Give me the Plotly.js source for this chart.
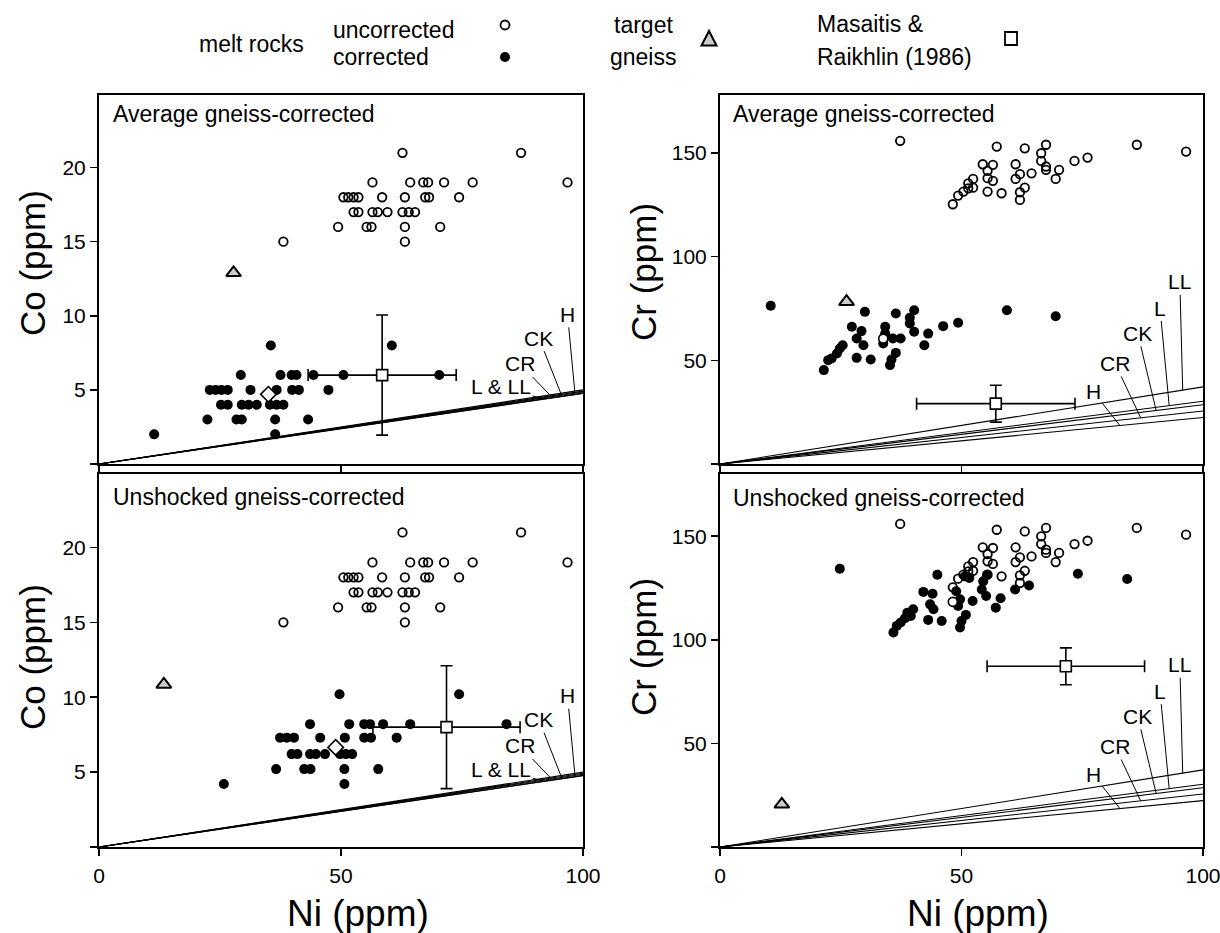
<!DOCTYPE html>
<html>
<head>
<meta charset="utf-8">
<script src="https://cdn.plot.ly/plotly-3.0.1.min.js"></script>
<style>
html,body{margin:0;padding:0;background:#fff;}
#chart{width:1220px;height:933px;}
</style>
</head>
<body>
<div id="chart"></div>
<script>
// ---------------- DATA ----------------
// Uncorrected melt rocks, Co vs Ni (same in both Co panels)
const niUncCo = [62.7, 87.2,
  56.5, 64.3, 67.0, 68.0, 71.3, 77.2, 96.8,
  50.5, 51.5, 52.6, 53.6, 58.5, 63.2, 67.4, 68.2, 74.4,
  52.6, 53.6, 56.5, 57.6, 59.6, 62.7, 64.0, 65.3,
  49.4, 55.3, 56.3, 63.2, 70.5,
  38.1, 63.2];
const coUnc = [21, 21,
  19, 19, 19, 19, 19, 19, 19,
  18, 18, 18, 18, 18, 18, 18, 18, 18,
  17, 17, 17, 17, 17, 17, 17, 17,
  16, 16, 16, 16, 16,
  15, 15];

// Corrected melt rocks, average gneiss-corrected, Co vs Ni
const niAvgCo = [11.4, 35.5, 60.5,
  29.3, 37.5, 39.8, 40.8, 44.3, 50.5, 70.3,
  22.9, 24.1, 25.3, 26.6, 31.3, 36.7, 39.9, 41.3, 47.4,
  25.2, 26.6, 29.5, 30.9, 32.6, 35.3, 36.7, 38.1,
  22.4, 28.4, 29.5, 36.4, 43.2,
  36.4];
const coAvg = [2, 8, 8,
  6, 6, 6, 6, 6, 6, 6,
  5, 5, 5, 5, 5, 5, 5, 5, 5,
  4, 4, 4, 4, 4, 4, 4, 4,
  3, 3, 3, 3, 3,
  2];

// Corrected melt rocks, unshocked gneiss-corrected, Co vs Ni
const niUnshCo = [25.8, 49.7, 74.4,
  43.6, 51.7, 54.8, 56.0, 58.7, 64.3, 84.2,
  37.4, 38.8, 40.3, 45.7, 50.8, 54.8, 56.2, 61.5,
  39.8, 41.0, 43.6, 44.8, 46.7, 49.8, 51.0, 52.3,
  36.6, 42.4, 43.7, 50.7, 57.7,
  50.7];
const coUnsh = [4.2, 10.2, 10.2,
  8.2, 8.2, 8.2, 8.2, 8.2, 8.2, 8.2,
  7.3, 7.3, 7.3, 7.3, 7.3, 7.3, 7.3, 7.3,
  6.2, 6.2, 6.2, 6.2, 6.2, 6.2, 6.2, 6.2,
  5.2, 5.2, 5.2, 5.2, 5.2,
  4.2];

// Uncorrected melt rocks, Cr vs Ni (same in both Cr panels)
const niUncCr = [37.3, 57.3, 63.1, 67.5, 86.3, 96.5, 66.5, 76.1, 73.4, 66.5,
  61.2, 54.4, 56.5, 67.5, 67.5, 70.2, 55.4, 62.1, 64.5, 55.4,
  61.2, 56.5, 69.5, 52.4, 51.4, 52.4, 51.4, 63.1, 55.4, 58.3,
  62.1, 62.1, 50.4, 49.3, 48.2];
const crUnc = [155.9, 153.1, 152.3, 154.0, 154.0, 150.7, 149.9, 147.8, 146.2, 146.2,
  144.6, 144.6, 144.3, 143.5, 141.9, 141.9, 141.4, 139.8, 140.2, 137.9,
  137.5, 136.6, 137.5, 137.5, 135.4, 133.3, 133.0, 133.3, 131.4, 130.6,
  131.1, 127.4, 131.4, 129.5, 125.3];

// Corrected melt rocks, average gneiss-corrected, Cr vs Ni
const niAvgCr = [10.5, 30.0, 36.4, 40.2, 59.4, 69.5, 39.3, 46.2, 49.3, 39.3,
  40.2, 43.1, 27.3, 29.3, 28.3, 29.7, 34.2, 34.2, 33.8, 35.8,
  37.4, 42.3, 25.4, 24.8, 24.2, 23.1, 22.4, 21.5, 28.3, 31.2,
  36.4, 35.5, 35.2];
const crAvg = [76.3, 73.4, 72.6, 74.2, 74.2, 71.3, 70.5, 66.5, 68.1, 67.8,
  63.8, 62.9, 66.2, 64.1, 60.5, 57.3, 66.2, 62.9, 58.1, 60.5,
  60.5, 57.3, 57.3, 55.7, 53.3, 50.9, 50.1, 45.3, 51.2, 50.4,
  53.6, 50.4, 47.7];

// Corrected melt rocks, unshocked gneiss-corrected, Cr vs Ni
const niUnshCr = [24.8, 45.0, 74.1, 84.3,
  35.9, 36.6, 37.4, 38.3, 38.8, 39.5, 40.0,
  42.1, 44.0, 43.5, 44.2, 43.1, 45.9,
  49.7, 50.0, 50.9, 49.3, 48.9, 49.7,
  52.3, 51.6, 50.7,
  55.3, 54.5, 54.2, 55.1, 57.1, 58.1, 61.1, 64.0];
const crUnsh = [134.3, 131.4, 131.9, 129.3,
  103.5, 106.7, 108.3, 110.4, 113.1, 111.5, 114.7,
  123.1, 122.2, 117.1, 114.7, 109.6, 109.1,
  105.9, 109.1, 112.0, 116.3, 123.4, 119.5,
  118.7, 129.8, 130.6,
  131.4, 128.2, 124.3, 121.1, 115.5, 120.0, 124.3, 126.2];

// Panels order: [Co avg, Co unshocked, Cr avg, Cr unshocked]
const gneissNi = [27.8, 13.4, 26.2, 12.8];
const gneissVal = [12.9, 10.85, 78.3, 20.6];
const masNi = [58.5, 71.8, 57.1, 71.6];
const masVal = [6.0, 8.0, 29.1, 87.2];
const masNiErr = [15.3, 15.2, 16.4, 16.3];
const masValErr = [4.05, 4.1, 8.9, 8.9];
const openMarkNi = [35.0, 48.9, 33.8, 48.2];
const openMarkVal = [4.7, 6.65, 60.5, 118.3];

// Chondrite reference lines (value at Ni = 100 ppm)
const meteorites = ['H', 'CK', 'CR', 'L', 'LL'];
const coAtNi100 = [5.0, 4.92, 4.86, 4.78, 4.76];
const crAtNi100 = [22.4, 28.6, 25.6, 30.3, 37.2];

// Tick labels
const niTicks = [0, 50, 100];
const coTicks = [0, 5, 10, 15, 20];
const crTicks = [0, 50, 100, 150];

// ---------------- LAYOUT HELPERS ----------------
const FONT = 'Liberation Sans, Arial, Helvetica, sans-serif';
const W = 1220, H = 933;
const px = v => v / W;
const py = v => 1 - v / H;

const xDomL = [px(99), px(583)], xDomR = [px(720), px(1203)];
const yDomT = [py(464), py(95)], yDomB = [py(847), py(474)];

function xAxis(domain, anchor, showLabels) {
  return {
    domain: domain, anchor: anchor, range: [0, 100],
    tickvals: niTicks, ticktext: niTicks.map(String),
    showticklabels: showLabels,
    ticks: 'outside', ticklen: 7, tickwidth: 1.5, tickcolor: '#000',
    showline: true, linecolor: '#000', linewidth: 2, mirror: true,
    showgrid: false, zeroline: false, fixedrange: true,
    ticklabelstandoff: 2, ticklabeloverflow: 'allow',
    tickfont: {family: FONT, size: 21, color: '#000'}
  };
}
function yAxis(domain, anchor, range, ticks) {
  return {
    domain: domain, anchor: anchor, range: range,
    tickvals: ticks, ticktext: ticks.map(t => t === 0 ? '' : String(t)),
    ticks: 'outside', ticklen: 7, tickwidth: 1.5, tickcolor: '#000',
    showline: true, linecolor: '#000', linewidth: 2, mirror: true,
    showgrid: false, zeroline: false, fixedrange: true,
    ticklabeloverflow: 'allow',
    tickfont: {family: FONT, size: 21, color: '#000'}
  };
}

const panels = [
  {xa: 'x', ya: 'y', niU: niUncCo, vU: coUnc, niC: niAvgCo, vC: coAvg, lines: coAtNi100, openSym: 'diamond', openSize: 12},
  {xa: 'x3', ya: 'y3', niU: niUncCo, vU: coUnc, niC: niUnshCo, vC: coUnsh, lines: coAtNi100, openSym: 'diamond', openSize: 12},
  {xa: 'x2', ya: 'y2', niU: niUncCr, vU: crUnc, niC: niAvgCr, vC: crAvg, lines: crAtNi100, openSym: 'circle', openSize: 9},
  {xa: 'x4', ya: 'y4', niU: niUncCr, vU: crUnc, niC: niUnshCr, vC: crUnsh, lines: crAtNi100, openSym: 'circle', openSize: 9}
];

const traces = [];
panels.forEach((p, i) => {
  // chondrite lines
  meteorites.forEach((m, k) => {
    traces.push({
      type: 'scatter', mode: 'lines', xaxis: p.xa, yaxis: p.ya,
      x: [0, 100], y: [0, p.lines[k]], name: m, showlegend: false,
      line: {color: '#000', width: 1.1}, hoverinfo: 'skip'
    });
  });
  // corrected (filled)
  traces.push({
    type: 'scatter', mode: 'markers', xaxis: p.xa, yaxis: p.ya,
    x: p.niC, y: p.vC, name: 'corrected', showlegend: false,
    marker: {symbol: 'circle', size: 10, color: '#000', line: {width: 0}}
  });
  // uncorrected (open)
  traces.push({
    type: 'scatter', mode: 'markers', xaxis: p.xa, yaxis: p.ya,
    x: p.niU, y: p.vU, name: 'uncorrected', showlegend: false,
    marker: {symbol: 'circle-open', size: 8.5, color: '#000', line: {width: 1.8, color: '#000'}}
  });
  // open diamond / circle marker within corrected cluster
  traces.push({
    type: 'scatter', mode: 'markers', xaxis: p.xa, yaxis: p.ya,
    x: [openMarkNi[i]], y: [openMarkVal[i]], showlegend: false,
    marker: {symbol: p.openSym, size: p.openSize, color: '#fff', line: {width: 1.6, color: '#000'}}
  });
  // target gneiss
  traces.push({
    type: 'scatter', mode: 'markers', xaxis: p.xa, yaxis: p.ya,
    x: [gneissNi[i]], y: [gneissVal[i]], name: 'target gneiss', showlegend: false,
    marker: {symbol: 'triangle-up', size: 13, color: '#cccccc', line: {width: 2, color: '#000'}}
  });
  // Masaitis & Raikhlin (1986)
  traces.push({
    type: 'scatter', mode: 'markers', xaxis: p.xa, yaxis: p.ya,
    x: [masNi[i]], y: [masVal[i]], name: 'Masaitis & Raikhlin (1986)', showlegend: false,
    error_x: {type: 'data', array: [masNiErr[i]], visible: true, color: '#000', thickness: 1.6, width: 6},
    error_y: {type: 'data', array: [masValErr[i]], visible: true, color: '#000', thickness: 1.6, width: 6},
    marker: {symbol: 'square', size: 11, color: '#fff', line: {width: 1.6, color: '#000'}}
  });
});

// ---------------- ANNOTATIONS ----------------
const annotations = [];
const txt = (text, x, y, size, opts) => Object.assign({
  text: text, xref: 'paper', yref: 'paper', x: px(x), y: py(y),
  showarrow: false, font: {family: FONT, size: size, color: '#000'},
  xanchor: 'center', yanchor: 'middle'
}, opts || {});

// panel labels
annotations.push(txt('Average gneiss-corrected', 111, 114, 23, {xanchor: 'left'}));
annotations.push(txt('Average gneiss-corrected', 731, 114, 23, {xanchor: 'left'}));
annotations.push(txt('Unshocked gneiss-corrected', 111, 497, 23, {xanchor: 'left'}));
annotations.push(txt('Unshocked gneiss-corrected', 731, 498, 23, {xanchor: 'left'}));

// axis titles
annotations.push(txt('Co (ppm)', 32, 263, 35, {textangle: -90}));
annotations.push(txt('Co (ppm)', 32, 657, 35, {textangle: -90}));
annotations.push(txt('Cr (ppm)', 643, 272, 35, {textangle: -90}));
annotations.push(txt('Cr (ppm)', 643, 647, 35, {textangle: -90}));
annotations.push(txt('Ni (ppm)', 358, 913, 37));
annotations.push(txt('Ni (ppm)', 978, 913, 37));

// top legend text
annotations.push(txt('melt rocks', 251, 44, 23));
annotations.push(txt('uncorrected', 331, 30, 23, {xanchor: 'left'}));
annotations.push(txt('corrected', 331, 57, 23, {xanchor: 'left'}));
annotations.push(txt('target', 643, 25, 23));
annotations.push(txt('gneiss', 643, 57, 23));
annotations.push(txt('Masaitis &', 815, 24, 23, {xanchor: 'left'}));
annotations.push(txt('Raikhlin (1986)', 815, 57, 23, {xanchor: 'left'}));

// chondrite labels with leader lines
const coLabels = ['H', 'CK', 'CR', 'L & LL'];
const coLabelIdx = [0, 1, 2, 3];
const coLabelPos = [[96.8, 10.1], [90.9, 8.5], [87.0, 6.75], [83.1, 5.2]];
const coTipNi = [98.3, 95.5, 93.5, 91.8];
const crLabels = ['LL', 'L', 'CK', 'CR', 'H'];
const crLabelIdx = [4, 3, 1, 2, 0];
const crLabelPos = [[95.2, 87.9], [91.1, 75.2], [86.5, 63.0], [81.8, 48.5], [77.3, 34.8]];
const crTipNi = [95.8, 93.0, 90.3, 87.1, 82.8];

function leader(xa, ya, text, lx, ly, tx, ty) {
  return {
    xref: xa, yref: ya, axref: xa, ayref: ya,
    x: tx, y: ty, ax: lx, ay: ly, text: text,
    showarrow: true, arrowhead: 0, arrowwidth: 1, arrowcolor: '#000',
    standoff: 0, startstandoff: 0,
    font: {family: FONT, size: 21, color: '#000'}
  };
}
[['x', 'y'], ['x3', 'y3']].forEach(([xa, ya]) => {
  coLabels.forEach((t, k) => {
    const tip = coTipNi[k];
    annotations.push(leader(xa, ya, t, coLabelPos[k][0], coLabelPos[k][1], tip, coAtNi100[coLabelIdx[k]] * tip / 100));
  });
});
[['x2', 'y2'], ['x4', 'y4']].forEach(([xa, ya]) => {
  crLabels.forEach((t, k) => {
    const tip = crTipNi[k];
    annotations.push(leader(xa, ya, t, crLabelPos[k][0], crLabelPos[k][1], tip, crAtNi100[crLabelIdx[k]] * tip / 100));
  });
});

// legend symbols as shapes (paper coordinates)
const shapes = [
  {type: 'circle', xref: 'paper', yref: 'paper', x0: px(500.5), x1: px(509.5), y0: py(29.5), y1: py(20.5),
   line: {color: '#000', width: 1.8}, fillcolor: 'rgba(0,0,0,0)'},
  {type: 'circle', xref: 'paper', yref: 'paper', x0: px(500), x1: px(510), y0: py(62), y1: py(52),
   line: {color: '#000', width: 0}, fillcolor: '#000'},
  {type: 'path', xref: 'paper', yref: 'paper',
   path: `M ${px(701.5)},${py(45.5)} L ${px(716.5)},${py(45.5)} L ${px(709)},${py(31)} Z`,
   line: {color: '#000', width: 2}, fillcolor: '#cccccc'},
  {type: 'rect', xref: 'paper', yref: 'paper', x0: px(1005), x1: px(1017), y0: py(45), y1: py(32),
   line: {color: '#000', width: 1.8}, fillcolor: '#fff'}
];

const layout = {
  width: W, height: H,
  margin: {l: 0, r: 0, t: 0, b: 0, pad: 0},
  paper_bgcolor: '#fff', plot_bgcolor: '#fff',
  showlegend: false,
  font: {family: FONT, color: '#000'},
  xaxis: xAxis(xDomL, 'y', false),
  yaxis: yAxis(yDomT, 'x', [0, 24.9], coTicks),
  xaxis2: xAxis(xDomR, 'y2', false),
  yaxis2: yAxis(yDomT, 'x2', [0, 178], crTicks),
  xaxis3: xAxis(xDomL, 'y3', true),
  yaxis3: yAxis(yDomB, 'x3', [0, 24.9], coTicks),
  xaxis4: xAxis(xDomR, 'y4', true),
  yaxis4: yAxis(yDomB, 'x4', [0, 180], crTicks),
  annotations: annotations,
  shapes: shapes
};

Plotly.newPlot('chart', traces, layout, {displayModeBar: false, staticPlot: true});
</script>
</body>
</html>
